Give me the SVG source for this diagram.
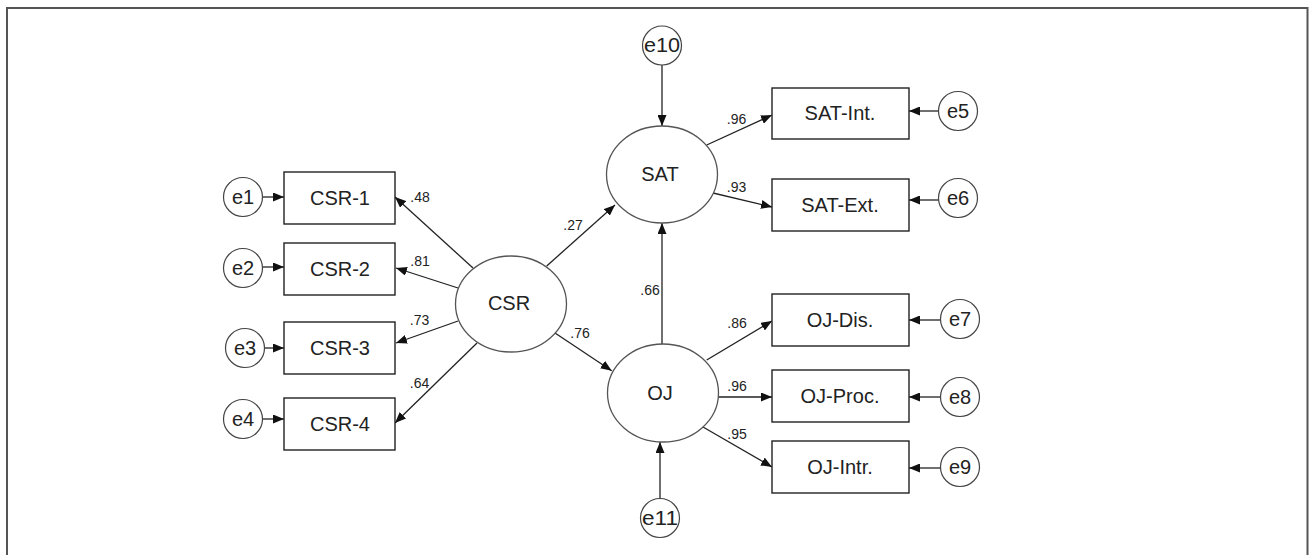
<svg xmlns="http://www.w3.org/2000/svg" width="1309" height="555" viewBox="0 0 1309 555">
<style>
.frame{fill:none;stroke:#555;stroke-width:2}
.box{fill:#fff;stroke:#222;stroke-width:1.4}
.lat{fill:#fff;stroke:#555;stroke-width:1.3}
.err{fill:#fff;stroke:#444;stroke-width:1.2}
.t{font-family:"Liberation Sans",Arial,sans-serif;font-size:20px;fill:#222;text-anchor:middle}
.lbl{font-family:"Liberation Sans",Arial,sans-serif;font-size:14px;fill:#222;text-anchor:middle}
.c{fill:none;stroke:#222;stroke-width:1.3;marker-end:url(#ah)}
</style>
<defs>
<marker id="ah" markerUnits="userSpaceOnUse" markerWidth="11" markerHeight="9" refX="11" refY="4.5" orient="auto">
<path d="M0,0 L11,4.5 L0,9 z" fill="#111"/>
</marker>
</defs>
<rect width="1309" height="555" fill="#fff"/>
<path class="frame" d="M7,560 V8 H1307.5 V560"/>

<g id="connectors">
<path class="c" d="M662,65 L662,126"/>
<path class="c" d="M660,498 L660,442"/>
<path class="c" d="M662,344 L662,223"/>
<path class="c" d="M546.7,266 L615,205"/>
<path class="c" d="M555,333 L611.7,370.7"/>
<path class="c" d="M473,268 L395,197"/>
<path class="c" d="M458,288 L396,268"/>
<path class="c" d="M458,321 L396,343"/>
<path class="c" d="M477,343 L395,423"/>
<path class="c" d="M706.7,145 L772,115"/>
<path class="c" d="M713,193 L772,207"/>
<path class="c" d="M706.7,360 L772,321"/>
<path class="c" d="M718,397 L772,397"/>
<path class="c" d="M703,427 L772,467"/>
<path class="c" d="M939,111 L909,111"/>
<path class="c" d="M939,200 L909,200"/>
<path class="c" d="M941,320 L909,320"/>
<path class="c" d="M941,397 L909,397"/>
<path class="c" d="M941,468 L909,468"/>
<path class="c" d="M262,197 L284,197"/>
<path class="c" d="M262,267 L284,267"/>
<path class="c" d="M264,348 L284,348"/>
<path class="c" d="M262,419 L284,419"/>
<text class="lbl" x="420" y="202">.48</text>
<text class="lbl" x="420" y="266">.81</text>
<text class="lbl" x="419.5" y="325">.73</text>
<text class="lbl" x="419.5" y="388">.64</text>
<text class="lbl" x="573" y="230">.27</text>
<text class="lbl" x="580" y="338">.76</text>
<text class="lbl" x="650" y="295">.66</text>
<text class="lbl" x="736.5" y="124">.96</text>
<text class="lbl" x="736.5" y="192">.93</text>
<text class="lbl" x="737" y="328">.86</text>
<text class="lbl" x="737" y="391">.96</text>
<text class="lbl" x="737" y="439">.95</text>
</g>

<g id="CSR"><ellipse class="lat" cx="511" cy="304" rx="55.5" ry="48"/><text class="t" x="509" y="310">CSR</text></g>
<g id="SAT"><ellipse class="lat" cx="662" cy="174.5" rx="55.5" ry="48.5"/><text class="t" x="660" y="181">SAT</text></g>
<g id="OJ"><ellipse class="lat" cx="663" cy="393" rx="55.5" ry="49"/><text class="t" x="660" y="400">OJ</text></g>

<g id="CSR-1"><rect class="box" x="284" y="172" width="111" height="52"/><text class="t" x="340" y="204.5">CSR-1</text></g>
<g id="CSR-2"><rect class="box" x="284" y="243" width="111" height="52"/><text class="t" x="340" y="275.5">CSR-2</text></g>
<g id="CSR-3"><rect class="box" x="284" y="322" width="111" height="52"/><text class="t" x="340" y="354.5">CSR-3</text></g>
<g id="CSR-4"><rect class="box" x="284" y="398" width="111" height="52"/><text class="t" x="340" y="430.5">CSR-4</text></g>

<g id="SAT-Int"><rect class="box" x="772" y="88" width="137" height="51"/><text class="t" x="840" y="120">SAT-Int.</text></g>
<g id="SAT-Ext"><rect class="box" x="772" y="179" width="137" height="52"/><text class="t" x="840" y="212">SAT-Ext.</text></g>
<g id="OJ-Dis"><rect class="box" x="772" y="294" width="137" height="52"/><text class="t" x="840" y="327">OJ-Dis.</text></g>
<g id="OJ-Proc"><rect class="box" x="772" y="370" width="137" height="52"/><text class="t" x="840" y="403">OJ-Proc.</text></g>
<g id="OJ-Intr"><rect class="box" x="772" y="441" width="137" height="52"/><text class="t" x="840" y="474">OJ-Intr.</text></g>

<g id="e1"><circle class="err" cx="243" cy="197" r="19.5"/><text class="t" x="243" y="204">e1</text></g>
<g id="e2"><circle class="err" cx="243" cy="268" r="19.5"/><text class="t" x="243" y="275">e2</text></g>
<g id="e3"><circle class="err" cx="245" cy="348" r="19.5"/><text class="t" x="245" y="355">e3</text></g>
<g id="e4"><circle class="err" cx="243" cy="419" r="19.5"/><text class="t" x="243" y="426">e4</text></g>
<g id="e5"><circle class="err" cx="958" cy="111" r="19.5"/><text class="t" x="958" y="118">e5</text></g>
<g id="e6"><circle class="err" cx="958" cy="198" r="19.5"/><text class="t" x="958" y="205">e6</text></g>
<g id="e7"><circle class="err" cx="960" cy="319" r="19.5"/><text class="t" x="960" y="326">e7</text></g>
<g id="e8"><circle class="err" cx="960" cy="397" r="19.5"/><text class="t" x="960" y="404">e8</text></g>
<g id="e9"><circle class="err" cx="960" cy="467" r="19.5"/><text class="t" x="960" y="474">e9</text></g>
<g id="e10"><circle class="err" cx="662" cy="45.5" r="19.5"/><text class="t" x="662" y="52" textLength="36" lengthAdjust="spacingAndGlyphs">e10</text></g>
<g id="e11"><circle class="err" cx="660" cy="518" r="19.5"/><text class="t" x="660" y="525" textLength="36" lengthAdjust="spacingAndGlyphs">e11</text></g>
</svg>
